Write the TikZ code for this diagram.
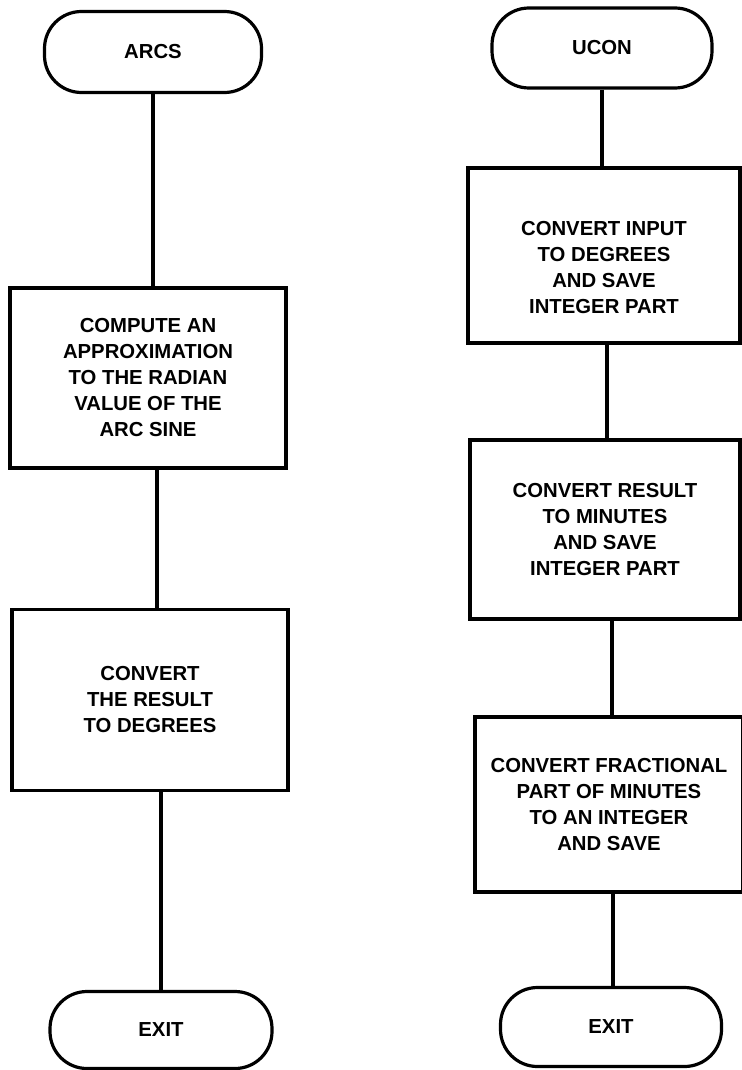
\documentclass[tikz,border=0pt]{standalone}
\usepackage{fontspec}
\setmainfont{Liberation Sans}
\newcommand\flowfont{\fontsize{20.3}{26}\selectfont\bfseries}
\begin{document}
\begin{tikzpicture}[x=1pt,y=-1pt,line width=3.2pt,
  term/.style={draw,rectangle,rounded corners=37pt,inner sep=0pt,font=\flowfont},
  procbox/.style={draw,rectangle,inner sep=0pt,align=center,font=\flowfont},
  flow/.style={draw,line width=3.2pt}]
\useasboundingbox (0,0) rectangle (741,1070);
% left column
\node[term,minimum width=217pt,minimum height=81pt] (arcs) at (153,52) {ARCS};
\node[procbox,minimum width=276pt,minimum height=180pt] (b1) at (148,378)
  {COMPUTE AN\\APPROXIMATION\\TO THE RADIAN\\VALUE OF THE\\ARC SINE};
\node[procbox,minimum width=276pt,minimum height=181pt] (b2) at (150,700)
  {CONVERT\\THE RESULT\\TO DEGREES};
\node[term,minimum width=222pt,minimum height=77pt] (exl) at (161,1030) {EXIT};
% right column
\node[term,minimum width=220pt,minimum height=80pt] (ucon) at (602,48) {UCON};
\node[procbox,minimum width=272pt,minimum height=175pt,
  label={[align=center,font=\flowfont,yshift=-12pt]center:CONVERT INPUT\\TO DEGREES\\AND SAVE\\INTEGER PART}] (r1) at (604,255.5) {};
\node[procbox,minimum width=270pt,minimum height=179pt] (r2) at (605,529.5)
  {CONVERT RESULT\\TO MINUTES\\AND SAVE\\INTEGER PART};
\node[procbox,minimum width=268pt,minimum height=175pt] (r3) at (609,804.5)
  {CONVERT FRACTIONAL\\PART OF MINUTES\\TO AN INTEGER\\AND SAVE};
\node[term,minimum width=221pt,minimum height=79pt] (exr) at (611,1027) {EXIT};
% connectors
\draw[flow] (arcs.south) -- (arcs.south |- b1.north);
\draw[flow] ([xshift=9pt]b1.south) -- ([xshift=9pt]b1.south |- b2.north);
\draw[flow] ([xshift=11pt]b2.south) -- ([xshift=11pt]b2.south |- exl.north);
\draw[flow] (ucon.south) -- (ucon.south |- r1.north);
\draw[flow] ([xshift=3pt]r1.south) -- ([xshift=3pt]r1.south |- r2.north);
\draw[flow] ([xshift=7pt]r2.south) -- ([xshift=7pt]r2.south |- r3.north);
\draw[flow] ([xshift=4pt]r3.south) -- ([xshift=4pt]r3.south |- exr.north);
\end{tikzpicture}
\end{document}
